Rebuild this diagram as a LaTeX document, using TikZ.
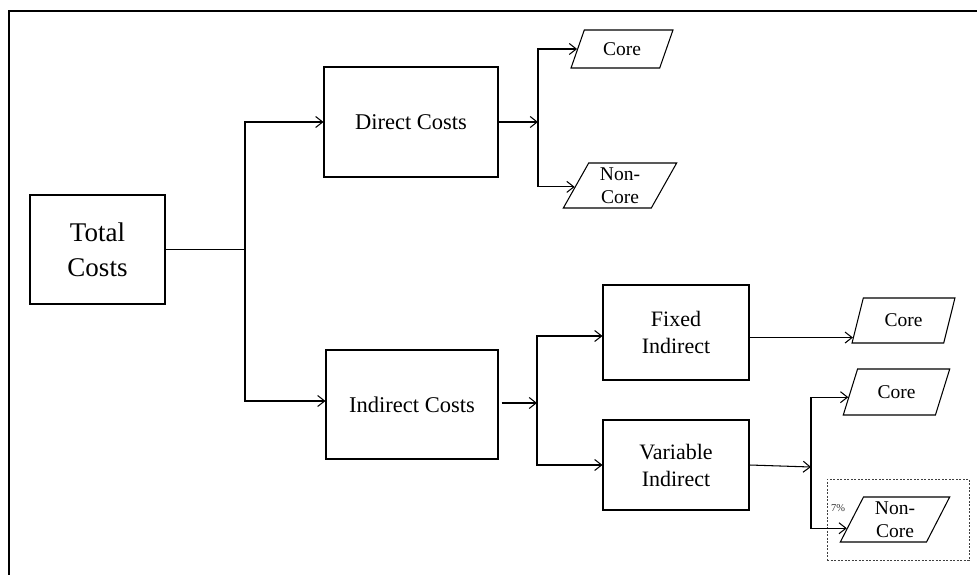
\documentclass[tikz,border=0pt]{standalone}
\usepackage{fontspec}
\setmainfont{Liberation Serif}
\usetikzlibrary{shapes.geometric,arrows.meta,calc}
\begin{document}
\begin{tikzpicture}[x=1pt,y=-1pt,
  box/.style={draw, line width=1.05pt, align=center, inner sep=0pt},
  para/.style={draw, trapezium, trapezium stretches=true, line width=1.05pt, align=center, inner sep=0pt, font=\fontsize{19.5}{23.5}\selectfont},
  arr/.style={-{Straight Barb[length=7pt,width=11pt]}, line width=1.05pt},
  ln/.style={line width=1.05pt}]
\useasboundingbox (0,0) rectangle (977,575);
\draw[line width=2pt] (995,11) -- (9,11) -- (9,595);

% boxes
\node[box, minimum width=135, minimum height=109, font=\fontsize{27}{35}\selectfont] (total) at (97.5,249.5) {Total\\Costs};
\node[box, minimum width=174, minimum height=110, font=\fontsize{22.5}{27}\selectfont] (direct) at (411,122) {Direct Costs};
\node[box, minimum width=172, minimum height=109, font=\fontsize{22.5}{27}\selectfont] (indirect) at (412,404.5) {Indirect Costs};
\node[box, minimum width=146, minimum height=95, font=\fontsize{22}{27}\selectfont] (fixed) at (676,332.5) {Fixed\\Indirect};
\node[box, minimum width=146, minimum height=90, font=\fontsize{22}{27}\selectfont] (variable) at (676,465) {Variable\\Indirect};

% parallelograms
\node[para, trapezium left angle=63, trapezium right angle=117, minimum width=102, minimum height=38] (core1) at (622,49) {Core};
\node[para, trapezium left angle=66, trapezium right angle=114, minimum width=114, minimum height=45] (noncore1) at (620,185.5) {Non-\\Core};
\node[para, trapezium left angle=68, trapezium right angle=112, minimum width=103, minimum height=45] (core2) at (903.5,320.5) {Core};
\node[para, trapezium left angle=62, trapezium right angle=118, minimum width=107, minimum height=46] (core3) at (896.5,392) {Core};
\node[para, trapezium left angle=68, trapezium right angle=112, minimum width=110, minimum height=45] (noncore3) at (895,519.5) {Non-\\Core};

% dashed group and label
\node[draw, dashed, dash pattern=on 2pt off 1.5pt, line width=0.6pt, draw=black!75, minimum width=142, minimum height=81, inner sep=0pt] (grp) at (898,519.5) {};
\node[font=\fontsize{10.5}{12}\selectfont, inner sep=0pt, text=black!80] (pct) at (838,508) {7\%};

% junctions
\coordinate (j1) at (245,249.5);
\coordinate (j2) at (538,122);
\coordinate (j3) at (537,403);
\coordinate (j4) at (811,467);

% entry points on slanted edges
\coordinate (c1in) at ($(core1.bottom left corner)!0.5!(core1.top left corner)$);
\coordinate (nc1in) at ($(noncore1.bottom left corner)!0.47!(noncore1.top left corner)$);
\coordinate (c2in) at ($(core2.bottom left corner)!0.13!(core2.top left corner)$);
\coordinate (c3in) at ($(core3.bottom left corner)!0.39!(core3.top left corner)$);
\coordinate (nc3in) at ($(noncore3.bottom left corner)!0.31!(noncore3.top left corner)$);

% connectors
\draw[ln] (total.east) -- (j1);
\draw[arr] (j1) |- (direct.west);
\draw[arr] (j1) |- ($(indirect.west)+(0,-3.5)$);

\draw[arr] (direct.east) -- (j2);
\draw[arr] (j2) |- (c1in);
\draw[arr] (j2) |- (nc1in);

\draw[arr, shorten <=3pt] (indirect.east |- j3) -- (j3);
\draw[arr] (j3) |- ($(fixed.west)+(0,3.5)$);
\draw[arr] (j3) |- (variable.west);

\draw[arr] (c2in -| fixed.east) -- (c2in);

\draw[arr] (variable.east) -- (j4);
\draw[arr] (j4) |- (c3in);
\draw[arr] (j4) |- (nc3in);
\end{tikzpicture}
\end{document}
